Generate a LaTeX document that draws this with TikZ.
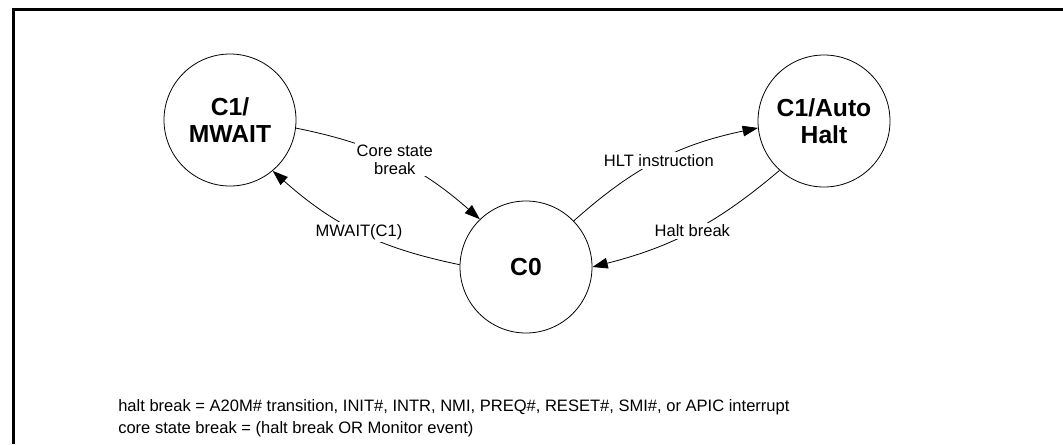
\documentclass[tikz,border=0pt]{standalone}
\usepackage{fontspec}
\setmainfont{Liberation Sans}
\usetikzlibrary{arrows.meta}
\tikzset{
  state/.style={draw, circle, minimum size=99pt, inner sep=0pt, align=center,
    line width=0.6pt, font=\fontsize{18.5}{20}\selectfont\bfseries},
  trans/.style={-{Triangle[length=11.5pt,width=8pt]}, line width=0.6pt},
  lbl/.style={fill=white, inner sep=1.5pt, align=center,
    font=\fontsize{12.4}{13}\selectfont},
  note/.style={anchor=base west, inner sep=0pt, font=\fontsize{12.4}{14}\selectfont}
}
\begin{document}
\begin{tikzpicture}[x=0.75pt, y=-0.75pt]
      \useasboundingbox (0,0) rectangle (1063,444);
      \draw[line width=2.25pt] (13,444) -- (13,9) -- (1063,9);

      \node[state] (mwait) at (230,120) {C1/\\MWAIT};
      \node[state] (c0) at (526,267) {C0};
      \node[state] (autohalt) at (824,121) {C1/Auto\\Halt};

      \draw[trans] (mwait.-7) to[bend left=15] node[lbl] {Core state\\break} (c0.134);
      \draw[trans] (c0.178) to[bend left=15] node[lbl] {MWAIT(C1)} (mwait.-50);
      \draw[trans] (c0.44) to[bend left=15] node[lbl] {HLT instruction} (autohalt.186);
      \draw[trans] (autohalt.228) to[bend left=13] node[lbl] {Halt break} (c0.0);

      \node[note] (haltnote) at (118,411) {halt break = A20M\# transition, INIT\#, INTR, NMI, PREQ\#, RESET\#, SMI\#, or APIC interrupt};
      \node[note] (corenote) at (118,433) {core state break = (halt break OR Monitor event)};
    \end{tikzpicture}
\end{document}
